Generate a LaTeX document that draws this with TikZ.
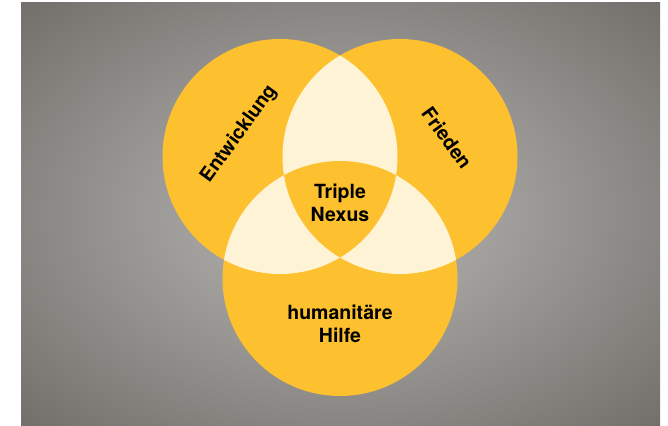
\documentclass[tikz,border=0pt]{standalone}
\usepackage{fontspec}
\setmainfont{TeX Gyre Heros}
\usetikzlibrary{positioning, calc}

\definecolor{nexusyellow}{RGB}{253,192,47}
\definecolor{nexuscream}{RGB}{255,243,214}
\definecolor{bgdark}{RGB}{85,81,77}
\definecolor{bglight}{RGB}{170,168,165}
\pgfdeclareradialshading{bgglow}{\pgfpoint{0bp}{0bp}}{color(0bp)=(bglight); color(8bp)=(bglight); color(50bp)=(bgdark)}

\begin{document}
\begin{tikzpicture}[x=1pt, y=-1pt,
                    ring/.style={fill=nexusyellow},
                    overlap/.style={fill=nexuscream},
                    vennlabel/.style={font=\bfseries\fontsize{19.5}{23}\selectfont, align=center, text=black, inner sep=0pt}]
                    \useasboundingbox (0,0) rectangle (668,425);
                    \shade[shading=bgglow] (21,3) rectangle (660,425);

                    \coordinate (E) at (280,156.5);
                    \coordinate (F) at (400,156.5);
                    \coordinate (H) at (340,278.5);

                    \fill[ring] (E) circle (117.5pt);
                    \fill[ring] (F) circle (117.5pt);
                    \fill[ring] (H) circle (117.5pt);

                    % pairwise overlaps
                    \begin{scope}
                        \clip (E) circle (117.5pt);
                        \fill[overlap] (F) circle (117.5pt);
                        \fill[overlap] (H) circle (117.5pt);
                    \end{scope}
                    \begin{scope}
                        \clip (F) circle (117.5pt);
                        \fill[overlap] (H) circle (117.5pt);
                    \end{scope}
                    % centre
                    \begin{scope}
                        \clip (E) circle (117.5pt);
                        \clip (F) circle (117.5pt);
                        \fill[ring] (H) circle (117.5pt);
                    \end{scope}

                    \node[vennlabel, rotate=54]  (entwicklung) at (239,134) {Entwicklung};
                    \node[vennlabel, rotate=-54] (frieden)     at (447,138) {Frieden};
                    \node[vennlabel]             (nexus)       at (340,202.5) {Triple\\Nexus};
                    \node[vennlabel]             (hilfe)       at (340,323.5) {humanitäre\\Hilfe};
                \end{tikzpicture}
\end{document}
